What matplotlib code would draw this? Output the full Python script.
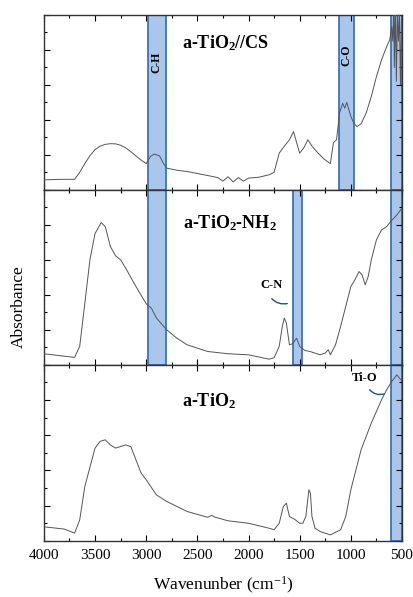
import numpy as np
import matplotlib.pyplot as plt
from matplotlib.ticker import MultipleLocator
from matplotlib.patches import FancyArrowPatch

plt.rcParams['font.family'] = ['Liberation Serif', 'DejaVu Serif']
plt.rcParams['mathtext.default'] = 'regular'

# a-TiO2//CS spectrum (top)
wn_cs = [4000, 3850, 3700, 3650, 3600, 3550, 3500, 3450, 3400, 3350, 3300, 3250,
         3200, 3150, 3100, 3050, 3000, 2960, 2920, 2870, 2830, 2800, 2700, 2600,
         2400, 2300, 2250, 2200, 2150, 2100, 2050, 2000, 1900, 1800, 1750, 1700,
         1650, 1600, 1560, 1530, 1500, 1460, 1420, 1380, 1320, 1260, 1200, 1170,
         1140, 1110, 1080, 1060, 1040, 1000, 970, 940, 900, 850, 800, 750, 700,
         650, 620, 600, 590, 580, 575, 565, 555, 545, 535, 525, 515, 505, 500]
ab_cs = [0.057, 0.06, 0.06, 0.1, 0.15, 0.195, 0.23, 0.25, 0.26, 0.264, 0.263, 0.255,
         0.24, 0.218, 0.194, 0.17, 0.15, 0.19, 0.205, 0.194, 0.15, 0.124, 0.112, 0.105,
         0.082, 0.07, 0.05, 0.075, 0.045, 0.07, 0.05, 0.067, 0.072, 0.086, 0.1, 0.21,
         0.25, 0.286, 0.333, 0.27, 0.21, 0.24, 0.286, 0.25, 0.21, 0.175, 0.15, 0.27,
         0.286, 0.44, 0.495, 0.467, 0.5, 0.42, 0.38, 0.362, 0.377, 0.44, 0.533, 0.647,
         0.743, 0.819, 0.857, 0.933, 0.85, 1.05, 0.7, 1.05, 0.62, 1.02, 0.85, 1.02,
         0.6, 0.98, 0.95]

# a-TiO2-NH2 spectrum (middle)
wn_nh = [4000, 3700, 3650, 3600, 3550, 3500, 3440, 3400, 3350, 3300, 3250, 3200,
         3100, 3000, 2950, 2900, 2800, 2700, 2600, 2400, 2200, 2000, 1800, 1750,
         1700, 1670, 1650, 1630, 1600, 1570, 1530, 1500, 1450, 1400, 1300, 1250,
         1220, 1200, 1150, 1100, 1050, 1000, 960, 920, 890, 860, 830, 800, 750,
         700, 650, 610, 550, 500]
ab_nh = [0.063, 0.042, 0.105, 0.35, 0.6, 0.75, 0.813, 0.79, 0.676, 0.623, 0.6, 0.552,
         0.447, 0.349, 0.324, 0.267, 0.2, 0.152, 0.114, 0.076, 0.063, 0.057, 0.032, 0.04,
         0.105, 0.219, 0.267, 0.238, 0.114, 0.12, 0.152, 0.105, 0.082, 0.076, 0.057, 0.067,
         0.086, 0.057, 0.114, 0.219, 0.333, 0.447, 0.486, 0.533, 0.514, 0.457, 0.505, 0.6,
         0.714, 0.771, 0.79, 0.819, 0.857, 0.895]

# a-TiO2 spectrum (bottom)
wn_ti = [4000, 3800, 3700, 3650, 3600, 3500, 3450, 3400, 3350, 3300, 3200, 3150,
         3100, 3050, 3000, 2900, 2800, 2600, 2400, 2360, 2330, 2200, 2000, 1800,
         1750, 1700, 1660, 1630, 1600, 1550, 1500, 1470, 1440, 1410, 1395, 1380,
         1350, 1300, 1200, 1100, 1050, 1000, 900, 800, 700, 650, 600, 550, 520, 500]
ab_ti = [0.08, 0.067, 0.044, 0.119, 0.309, 0.527, 0.565, 0.574, 0.545, 0.527, 0.545, 0.535,
         0.46, 0.385, 0.347, 0.261, 0.224, 0.167, 0.134, 0.145, 0.135, 0.114, 0.1, 0.072,
         0.063, 0.1, 0.195, 0.214, 0.138, 0.123, 0.1, 0.1, 0.138, 0.29, 0.27, 0.138,
         0.072, 0.053, 0.034, 0.063, 0.138, 0.29, 0.517, 0.669, 0.801, 0.858, 0.905, 0.943,
         0.92, 0.91]

titles = ['a-TiO$_2$//CS', 'a-TiO$_2$-NH$_2$', 'a-TiO$_2$']
title_pos = [(2220, 0.84), (2180, 0.81), (2390, 0.795)]

# bands: (high, low, label, panels)
bands = [(2985, 2810, 'C-H', [0, 1]),
         (1120, 965, 'C-O', [0]),
         (1570, 1475, 'C-N', [1]),
         (610, 500, 'Ti-O', [0, 1, 2])]

fig = plt.figure(figsize=(4.14, 5.97), dpi=100)
bounds = [(0.682, 0.293), (0.389, 0.293), (0.094, 0.295)]
axes = []
for b, h in bounds:
    axes.append(fig.add_axes([0.106, b, 0.865, h]))

spectra = [(wn_cs, ab_cs), (wn_nh, ab_nh), (wn_ti, ab_ti)]
for i, ax in enumerate(axes):
    wn, ab = spectra[i]
    for hi, lo, lab, pan in bands:
        if i in pan:
            ax.axvspan(lo, hi, facecolor='#aac6ea', edgecolor='#2e6bb8', lw=1.2, zorder=1)
    ax.plot(wn, ab, color='#555555', lw=0.7, zorder=3)
    ax.set_xlim(4000, 500)
    ax.set_ylim(0, 1)
    ax.xaxis.set_major_locator(MultipleLocator(500))
    ax.xaxis.set_minor_locator(MultipleLocator(250))
    ax.yaxis.set_major_locator(MultipleLocator(0.2))
    ax.yaxis.set_minor_locator(MultipleLocator(0.1))
    ax.tick_params(which='both', direction='in', top=True, right=True, labelleft=False)
    ax.tick_params(which='major', length=4, width=0.8)
    ax.tick_params(which='minor', length=2.5, width=0.8)
    for s in ax.spines.values():
        s.set_linewidth(1.0)
        s.set_color('#333333')
    ax.text(title_pos[i][0], title_pos[i][1], titles[i], fontsize=13, fontweight='bold',
            ha='center', va='center')
    if i < 2:
        ax.tick_params(labelbottom=False)

axes[2].tick_params(labelsize=11, pad=6)
axes[2].set_xlabel('Wavenunber (cm$^{-1}$)', fontsize=12.5, labelpad=9)
fig.text(0.046, 0.487, 'Absorbance', rotation=90, fontsize=12.5, ha='center', va='center')

axes[0].text(2897, 0.73, 'C-H', rotation=90, fontsize=8.5, fontweight='bold',
             ha='center', va='center')
axes[0].text(1042, 0.77, 'C-O', rotation=90, fontsize=8.5, fontweight='bold',
             ha='center', va='center')

axes[1].text(1775, 0.457, 'C-N', fontsize=9, fontweight='bold', ha='center', va='center')
axes[1].add_patch(FancyArrowPatch((1790, 0.39), (1595, 0.354), arrowstyle='-',
                                  connectionstyle='arc3,rad=0.35', color='#1f4e8c', lw=1.0))
axes[2].text(870, 0.926, 'Ti-O', fontsize=9, fontweight='bold', ha='center', va='center')
axes[2].add_patch(FancyArrowPatch((833, 0.87), (647, 0.84), arrowstyle='-',
                                  connectionstyle='arc3,rad=0.4', color='#1f4e8c', lw=1.0))

fig.savefig('out.png', dpi=100)
